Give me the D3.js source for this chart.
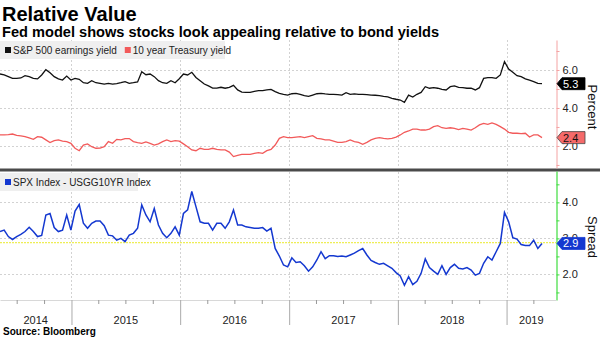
<!DOCTYPE html>
<html><head><meta charset="utf-8">
<script src="https://cdn.jsdelivr.net/npm/d3@7"></script>
<style>
body{margin:0;background:#fff}
svg{display:block}
text{font-family:"Liberation Sans",Arial,sans-serif}
</style>
</head><body>
<svg id="chart" width="600" height="338"></svg>
<script>
// ---------- data ----------
const startDate = new Date(2014, 4, 6);   // first observation
const stepDays = 14;                        // bi-weekly observations

const earningsYield = [
5.79,5.74,5.65,5.56,5.56,5.58,5.70,5.65,5.56,5.53,
5.74,6.02,5.86,5.65,5.53,5.47,5.68,5.47,5.56,5.51,
5.33,5.30,5.44,5.33,5.30,5.26,5.30,5.26,5.28,5.33,
5.39,5.30,5.33,5.37,5.91,5.75,5.79,5.65,5.44,5.33,
5.30,5.44,5.33,5.54,5.79,5.74,5.88,5.61,5.44,5.26,
5.16,5.05,5.05,5.09,5.04,5.09,5.19,4.95,4.84,4.82,
4.82,4.88,4.91,4.91,4.95,4.98,4.86,4.77,4.72,4.68,
4.75,4.77,4.72,4.65,4.61,4.68,4.75,4.77,4.74,4.72,
4.72,4.70,4.68,4.81,4.72,4.74,4.72,4.72,4.70,4.68,
4.67,4.65,4.61,4.58,4.51,4.46,4.42,4.30,4.68,4.58,
4.72,4.82,5.12,5.04,5.07,5.04,4.98,4.95,5.12,5.16,
5.09,5.07,5.04,5.04,4.95,5.07,5.56,5.60,5.60,5.56,
5.74,6.44,6.05,5.88,5.70,5.65,5.53,5.47,5.39,5.30,
5.28];

const treasuryYield = [
2.58,2.58,2.60,2.63,2.56,2.53,2.49,2.42,2.35,2.49,
2.46,2.32,2.18,2.28,2.32,2.25,2.23,2.14,1.88,1.75,
2.05,2.11,1.96,1.88,1.89,1.96,2.23,2.14,2.35,2.32,
2.39,2.39,2.23,2.18,2.14,2.21,2.14,2.05,2.11,2.23,
2.32,2.23,2.28,2.25,2.11,1.96,1.79,1.75,1.88,1.82,
1.82,1.88,1.82,1.79,1.79,1.68,1.44,1.51,1.56,1.56,
1.56,1.61,1.65,1.61,1.75,1.82,2.05,2.40,2.49,2.44,
2.44,2.47,2.49,2.44,2.49,2.54,2.40,2.37,2.32,2.32,
2.26,2.19,2.19,2.23,2.32,2.23,2.19,2.09,2.19,2.32,
2.40,2.44,2.40,2.37,2.40,2.47,2.58,2.72,2.79,2.89,
2.89,2.84,2.84,2.89,3.02,3.07,2.96,2.93,2.96,2.93,
2.86,2.93,2.89,2.84,2.96,3.11,3.19,3.14,3.21,3.14,
3.02,2.89,2.72,2.67,2.67,2.65,2.67,2.47,2.58,2.58,
2.44];

const spread = [
3.19,3.23,3.05,2.97,3.05,3.11,3.19,3.31,3.19,3.05,
3.08,3.65,3.69,3.30,3.19,3.23,3.65,3.23,3.76,3.94,
3.42,3.28,3.42,3.48,3.48,3.35,3.09,3.07,2.95,3.00,
2.91,3.09,3.14,3.28,3.93,3.65,3.46,3.83,3.37,3.14,
3.02,3.14,3.32,3.09,3.69,3.79,4.30,3.88,3.46,3.42,
3.42,3.23,3.42,3.42,3.28,3.46,3.79,3.37,3.37,3.32,
3.30,3.28,3.28,3.30,3.20,3.28,2.72,2.51,2.26,2.21,
2.46,2.33,2.35,2.24,2.09,2.21,2.40,2.63,2.44,2.52,
2.52,2.50,2.51,2.49,2.54,2.59,2.66,2.72,2.54,2.39,
2.33,2.28,2.31,2.24,2.17,2.05,1.96,1.70,1.94,1.72,
1.81,2.03,2.43,2.19,2.09,2.00,2.24,2.00,2.19,2.28,
2.17,2.15,2.19,2.12,1.98,2.03,2.31,2.49,2.40,2.63,
2.86,3.72,3.46,3.02,2.98,2.83,2.80,2.80,2.95,2.72,
2.86];

const spreadAverage = 2.88;
const yearLabels = ["2014","2015","2016","2017","2018","2019"];
const topTickValues = [1,2,3,4,5,6,7];
const topLabelValues = [2,4,6];
const bottomTickValues = [1.5,2,2.5,3,3.5,4,4.5];
const bottomLabelValues = [2,3,4];
const topLegend = ["S&P 500 earnings yield", "10 year Treasury yield"];
const bottomLegend = ["SPX Index - USGG10YR Index"];
const titleText = "Relative Value";
const subtitleText = "Fed model shows stocks look appealing relative to bond yields";
const sourceText = "Source: Bloomberg";

// ---------- build ----------
const dates = earningsYield.map((_, i) => d3.timeDay.offset(startDate, stepDays * i));
const rows = dates.map((d, i) => ({date: d, ey: earningsYield[i], ty: treasuryYield[i], sp: spread[i]}));

const C = {black: "#111", red: "#f25a5a", blue: "#1438d0", pink: "#f4a3a3", green: "#3fdc3f",
           grid: "#d2d2d2", yellow: "#eeee55"};

const svg = d3.select("#chart");
svg.append("rect").attr("width", 600).attr("height", 338).attr("fill", "#fff");

const plotRight = 556;
const x = d3.scaleTime().domain([new Date(2014, 4, 6), new Date(2019, 5, 16)]).range([0, plotRight]);
const yTop = d3.scaleLinear().domain([0.84, 7.58]).range([168, 40]);
const yBot = d3.scaleLinear().domain([1.29, 4.87]).range([300, 171]);

// titles
svg.append("text").attr("x", 2).attr("y", 21).attr("font-size", 20).attr("font-weight", "bold")
  .attr("fill", "#000").text(titleText);
svg.append("text").attr("x", 2).attr("y", 37).attr("font-size", 14.6).attr("font-weight", "bold")
  .attr("fill", "#000").text(subtitleText);

// grid
const yearStarts = yearLabels.slice(1).map(y => new Date(+y, 0, 1));
const gridG = svg.append("g").attr("stroke", C.grid).attr("stroke-dasharray", "2,2").attr("stroke-width", 1);
topLabelValues.forEach(v => gridG.append("line").attr("x1", 0).attr("x2", plotRight)
  .attr("y1", Math.round(yTop(v)) + 0.5).attr("y2", Math.round(yTop(v)) + 0.5));
bottomLabelValues.forEach(v => gridG.append("line").attr("x1", 0).attr("x2", plotRight)
  .attr("y1", Math.round(yBot(v)) + 0.5).attr("y2", Math.round(yBot(v)) + 0.5));
yearStarts.forEach(d => {
  const xx = Math.round(x(d)) + 0.5;
  gridG.append("line").attr("x1", xx).attr("x2", xx).attr("y1", 40).attr("y2", 168);
  gridG.append("line").attr("x1", xx).attr("x2", xx).attr("y1", 172).attr("y2", 300);
});

// legends
function legend(yTopPx, w, items, colors) {
  const g = svg.append("g");
  g.append("rect").attr("x", 0).attr("y", yTopPx).attr("width", w).attr("height", 18).attr("fill", "#efefef");
  let cx = 5;
  items.forEach((t, i) => {
    g.append("rect").attr("x", cx).attr("y", yTopPx + 6).attr("width", 6).attr("height", 6).attr("fill", colors[i]);
    const tx = g.append("text").attr("x", cx + 8).attr("y", yTopPx + 13).attr("font-size", 10)
      .attr("fill", "#222").text(t);
    cx += 8 + tx.node().getComputedTextLength() + 8;
  });
}
legend(41, 225, topLegend, [C.black, C.red]);
legend(173, 138, bottomLegend, [C.blue]);

// average line
svg.append("line").attr("x1", 0).attr("x2", plotRight)
  .attr("y1", yBot(spreadAverage)).attr("y2", yBot(spreadAverage))
  .attr("stroke", C.yellow).attr("stroke-width", 1.2).attr("stroke-dasharray", "2,1");

// series lines
const lineTopEY = d3.line().x(d => x(d.date)).y(d => yTop(d.ey));
const lineTopTY = d3.line().x(d => x(d.date)).y(d => yTop(d.ty));
const lineSp = d3.line().x(d => x(d.date)).y(d => yBot(d.sp));
svg.append("path").datum(rows).attr("d", lineTopEY).attr("fill", "none").attr("stroke", C.black).attr("stroke-width", 1.3);
svg.append("path").datum(rows).attr("d", lineTopTY).attr("fill", "none").attr("stroke", C.red).attr("stroke-width", 1.3);
svg.append("path").datum(rows).attr("d", lineSp).attr("fill", "none").attr("stroke", C.blue).attr("stroke-width", 1.5);

// separator
svg.append("rect").attr("x", 0).attr("y", 168.5).attr("width", 600).attr("height", 3).attr("fill", "#4a4a4a");

// right axes
const fmt = d3.format(".1f");
const axTop = svg.append("g").attr("transform", `translate(${plotRight + 0.5},0)`)
  .call(d3.axisRight(yTop).tickValues(topTickValues).tickSize(3).tickSizeOuter(0)
    .tickFormat(d => topLabelValues.includes(d) ? fmt(d) : ""));
axTop.select(".domain").attr("stroke", C.pink);
axTop.selectAll(".tick line").attr("stroke", C.pink);
axTop.selectAll(".tick text").attr("font-size", 11).attr("fill", "#222").attr("font-family", "Liberation Sans, Arial, sans-serif");

const axBot = svg.append("g").attr("transform", `translate(${plotRight + 0.5},0)`)
  .call(d3.axisRight(yBot).tickValues(bottomTickValues).tickSize(3).tickSizeOuter(0)
    .tickFormat(d => bottomLabelValues.includes(d) ? fmt(d) : ""));
axBot.select(".domain").attr("stroke", C.green).attr("stroke-width", 1.2);
axBot.selectAll(".tick line").attr("stroke", C.green);
axBot.selectAll(".tick text").attr("font-size", 11).attr("fill", "#222").attr("font-family", "Liberation Sans, Arial, sans-serif");

// time axis
const quarterTicks = d3.timeMonth.every(3).range(new Date(2014, 6, 1), new Date(2019, 5, 1));
const axX = svg.append("g").attr("transform", "translate(0,300)")
  .call(d3.axisBottom(x).tickValues(quarterTicks).tickSize(4).tickSizeOuter(0).tickFormat(""));
axX.select(".domain").attr("stroke", "#d8d8d8");
axX.selectAll(".tick line").attr("stroke", "#999");
axX.selectAll(".tick").filter(d => d.getMonth() === 0).select("line").attr("y2", 25).attr("stroke", "#aaa");

// year labels centered in their visible span
yearLabels.forEach(y => {
  const a = Math.max(0, x(new Date(+y, 0, 1)));
  const b = Math.min(plotRight, x(new Date(+y + 1, 0, 1)));
  svg.append("text").attr("x", (a + b) / 2).attr("y", 324).attr("text-anchor", "middle")
    .attr("font-size", 11).attr("fill", "#222").text(y);
});

// value tags (drawn over the nearby tick labels, as in the original)
function tag(cy, value, fill, textColor, stroke) {
  const l = plotRight + 1, r = 585, h = 6;
  svg.append("polygon")
    .attr("points", `${l},${cy} ${l + 5},${cy - h} ${r},${cy - h} ${r},${cy + h} ${l + 5},${cy + h}`)
    .attr("fill", fill).attr("stroke", stroke).attr("stroke-width", 0.8);
  svg.append("text").attr("x", l + 6).attr("y", cy + 4).attr("font-size", 11).attr("fill", textColor)
    .text(fmt(value));
}
const last = rows[rows.length - 1];
tag(yTop(last.ey), last.ey, "#000", "#fff", "#000");
tag(yTop(last.ty), last.ty, "#f56a6a", "#111", "#444");
tag(yBot(last.sp), last.sp, C.blue, "#fff", C.blue);

// axis titles
svg.append("text").attr("transform", `translate(588,107) rotate(90)`).attr("text-anchor", "middle")
  .attr("font-size", 13).attr("fill", "#111").text("Percent");
svg.append("text").attr("transform", `translate(588,237) rotate(90)`).attr("text-anchor", "middle")
  .attr("font-size", 13).attr("fill", "#111").text("Spread");

// source
svg.append("text").attr("x", 3).attr("y", 335).attr("font-size", 10).attr("font-weight", "bold")
  .attr("fill", "#000").text(sourceText);
</script>
</body></html>
